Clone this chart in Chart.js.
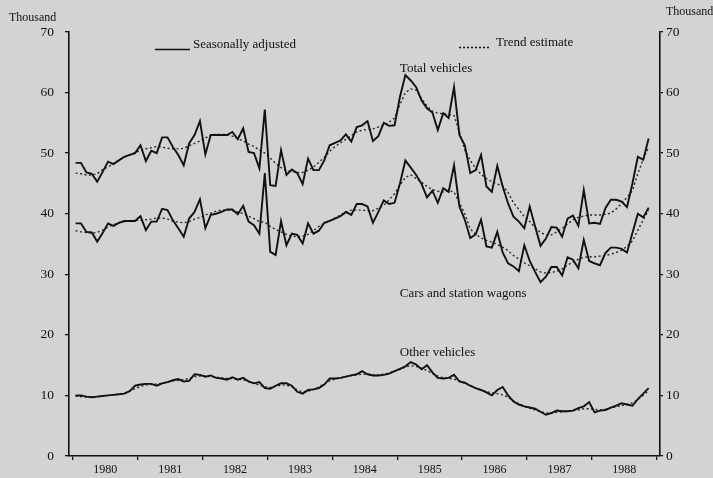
<!DOCTYPE html>
<html>
<head>
<meta charset="utf-8">
<script src="https://cdn.jsdelivr.net/npm/chart.js@4.4.0/dist/chart.umd.min.js"></script>
<style>
  html, body { margin: 0; padding: 0; background: #d3d3d3; }
  #wrap { width: 713px; height: 478px; position: relative; }
</style>
</head>
<body>
<div id="wrap"><canvas id="chart"></canvas></div>
<script>
// Monthly registrations, Jan 1980 - Nov 1988 (thousand)
const years = [1980, 1981, 1982, 1983, 1984, 1985, 1986, 1987, 1988];
const yTicks = [0, 10, 20, 30, 40, 50, 60, 70];

const totalAdj = [
  48.4, 48.4, 46.8, 46.6, 45.3, 46.9, 48.6, 48.2, 48.8, 49.4,
  49.7, 50.0, 51.3, 48.7, 50.4, 50.0, 52.6, 52.6, 51.0, 49.7,
  48.0, 51.6, 53.0, 55.3, 49.8, 53.0, 53.0, 53.0, 53.0, 53.5,
  52.3, 54.1, 50.2, 50.0, 47.5, 57.2, 44.7, 44.6, 50.5, 46.4,
  47.3, 46.7, 44.9, 49.1, 47.2, 47.2, 48.8, 51.3, 51.7, 52.1,
  53.1, 51.9, 54.3, 54.6, 55.3, 52.0, 52.8, 55.0, 54.5, 54.6,
  59.3, 62.9, 62.0, 60.9, 58.7, 57.4, 56.7, 53.8, 56.6, 55.8,
  60.9, 53.0, 51.3, 46.7, 47.2, 49.7, 44.5, 43.6, 47.9, 44.5,
  41.7, 39.5, 38.7, 37.6, 41.2, 37.9, 34.7, 35.9, 37.8, 37.7,
  36.2, 39.2, 39.7, 38.0, 43.9, 38.4, 38.5, 38.3, 40.9, 42.3,
  42.3, 42.0, 41.1, 45.0, 49.4, 48.9, 52.4
];
const totalTrend = [
  46.7, 46.6, 46.4, 46.4, 46.6, 47.3, 47.7, 48.3, 48.8, 49.3,
  49.7, 50.1, 50.4, 50.7, 50.9, 51.1, 51.0, 50.8, 50.7, 50.7,
  50.8, 51.2, 51.6, 52.0, 52.5, 53.0, 53.1, 53.1, 53.1, 52.8,
  52.4, 52.0, 51.5, 51.1, 50.5, 50.0, 49.2, 48.3, 47.6, 47.1,
  47.0, 46.8, 46.8, 47.2, 47.7, 48.5, 49.3, 50.3, 51.1, 51.7,
  52.3, 52.9, 53.5, 53.8, 53.9, 54.0, 54.3, 54.6, 55.1, 55.8,
  58.0, 60.0, 60.6, 60.4, 59.0, 57.8, 56.9, 56.6, 56.5, 56.4,
  56.2, 53.5, 50.5, 48.8, 47.5, 46.5, 45.8, 45.3, 44.9, 44.6,
  43.5, 41.8, 40.7, 39.5, 38.7, 37.7, 36.9, 36.5, 36.5, 37.0,
  37.6, 38.3, 39.0, 39.4, 39.6, 39.8, 39.8, 39.8, 39.9, 40.1,
  40.8, 41.7, 42.7, 43.8, 46.6, 49.0, 51.0
];
const carsAdj = [
  38.4, 38.4, 37.0, 36.9, 35.4, 36.8, 38.4, 38.0, 38.5, 38.8,
  38.8, 38.8, 39.6, 37.3, 38.7, 38.7, 40.8, 40.6, 38.9, 37.6,
  36.2, 39.2, 40.3, 42.4, 37.6, 39.8, 40.0, 40.3, 40.7, 40.7,
  39.9, 41.3, 38.7, 38.1, 36.7, 46.7, 33.7, 33.2, 38.8, 34.8,
  36.7, 36.5, 35.1, 38.4, 36.7, 37.2, 38.5, 38.8, 39.2, 39.6,
  40.3, 39.8, 41.6, 41.6, 41.2, 38.5, 40.3, 42.2, 41.6, 41.8,
  45.0, 48.8, 47.6, 46.4, 44.9, 42.7, 43.8, 41.8, 44.2, 43.6,
  48.0, 41.2, 39.0, 36.0, 36.6, 39.0, 34.6, 34.4, 37.0, 33.6,
  31.8, 31.3, 30.5, 34.8, 32.2, 30.4, 28.7, 29.6, 31.2, 31.2,
  29.8, 32.8, 32.4, 31.0, 35.7, 32.2, 31.8, 31.5, 33.5, 34.4,
  34.4, 34.2, 33.6, 36.8, 40.0, 39.4, 41.0
];
const carsTrend = [
  37.2, 37.0, 36.9, 36.8, 36.9, 37.3, 37.8, 38.2, 38.5, 38.7,
  38.8, 38.9, 38.9, 39.0, 39.1, 39.3, 39.3, 39.1, 38.8, 38.6,
  38.5, 38.7, 39.1, 39.4, 39.8, 40.1, 40.4, 40.6, 40.6, 40.5,
  40.3, 40.0, 39.6, 39.2, 38.7, 38.6, 37.9, 37.4, 37.0, 36.6,
  36.3, 36.2, 36.3, 36.6, 37.2, 37.9, 38.4, 38.8, 39.3, 39.8,
  40.3, 40.6, 40.6, 40.6, 40.5, 40.5, 40.9, 41.4, 42.3, 43.3,
  44.7, 46.0, 46.4, 45.8, 45.2, 44.5, 44.0, 43.7, 43.6, 43.8,
  43.6, 41.8, 40.0, 37.5, 36.6, 36.0, 35.6, 35.3, 34.9, 34.5,
  33.9, 33.1, 32.5, 31.9, 31.4, 30.9, 30.4, 30.2, 30.3, 30.5,
  30.9, 31.5, 32.0, 32.5, 32.8, 32.9, 32.9, 33.0, 33.1, 33.3,
  33.6, 34.0, 34.6, 35.5, 37.3, 39.0, 40.6
];
const otherAdj = [
  10.0, 10.0, 9.8, 9.7, 9.8, 9.9, 10.0, 10.1, 10.2, 10.3,
  10.7, 11.6, 11.8, 11.9, 11.9, 11.6, 12.0, 12.2, 12.5, 12.7,
  12.3, 12.4, 13.5, 13.4, 13.1, 13.3, 12.9, 12.8, 12.6, 13.0,
  12.6, 12.9, 12.3, 12.0, 12.2, 11.2, 11.1, 11.6, 12.0, 12.0,
  11.6, 10.6, 10.3, 10.9, 11.0, 11.2, 11.8, 12.8, 12.8, 12.9,
  13.1, 13.3, 13.5, 14.0, 13.5, 13.3, 13.3, 13.4, 13.6, 14.0,
  14.4, 14.8, 15.5, 15.1, 14.3, 15.0, 13.8, 12.9, 12.8, 12.9,
  13.4, 12.3, 12.1, 11.6, 11.2, 10.9, 10.5, 10.0, 10.9, 11.4,
  10.0, 9.0, 8.5, 8.2, 8.0, 7.8, 7.3, 6.8, 7.1, 7.5,
  7.4, 7.4, 7.5, 7.9, 8.2, 8.9, 7.2, 7.5, 7.6, 8.0,
  8.3, 8.7, 8.5, 8.3, 9.4, 10.3, 11.2
];
const otherTrend = [
  9.9, 9.8, 9.7, 9.7, 9.8, 9.9, 10.0, 10.1, 10.2, 10.4,
  10.7, 11.1, 11.5, 11.7, 11.8, 11.9, 12.0, 12.2, 12.4, 12.5,
  12.6, 12.8, 13.1, 13.2, 13.2, 13.1, 13.0, 12.9, 12.8, 12.8,
  12.7, 12.6, 12.3, 12.0, 11.7, 11.4, 11.3, 11.5, 11.7, 11.7,
  11.4, 10.9, 10.6, 10.7, 11.0, 11.4, 11.9, 12.4, 12.7, 12.9,
  13.1, 13.3, 13.4, 13.5, 13.5, 13.4, 13.4, 13.5, 13.7, 14.0,
  14.3, 14.7, 14.9, 14.8, 14.5, 14.1, 13.6, 13.2, 12.9, 12.8,
  12.7, 12.4, 12.0, 11.6, 11.2, 10.9, 10.6, 10.4, 10.3, 10.1,
  9.7, 9.1, 8.6, 8.2, 7.9, 7.6, 7.3, 7.1, 7.1, 7.2,
  7.3, 7.4, 7.5, 7.6, 7.8, 7.8, 7.7, 7.6, 7.7, 7.9,
  8.1, 8.3, 8.5, 8.8, 9.3, 10.0, 10.8
];

const INK = '#111111';
const SERIF = '"Liberation Serif", "DejaVu Serif", serif';

// month i sits in the middle of its month on a decimal-year axis
function toPoints(values) {
  return values.map((v, i) => ({ x: years[0] + (i + 0.5) / 12, y: v }));
}

function solid(values) {
  return {
    data: toPoints(values), borderColor: INK, borderWidth: 1.9,
    pointRadius: 0, tension: 0, fill: false
  };
}

function dotted(values) {
  return {
    data: toPoints(values), borderColor: '#262626', borderWidth: 1.4,
    borderDash: [2, 2.5], pointRadius: 0, tension: 0, fill: false
  };
}

// series labels, placed in data units
const seriesLabels = [
  { text: 'Total vehicles', x: 1985.04, y: 64.0 },
  { text: 'Cars and station wagons', x: 1985.04, y: 26.8 },
  { text: 'Other vehicles', x: 1985.04, y: 17.1 }
];

const decorPlugin = {
  id: 'decor',
  beforeDraw(chart) {
    const ctx = chart.ctx;
    ctx.save();
    ctx.fillStyle = '#d3d3d3';
    ctx.fillRect(0, 0, chart.width, chart.height);
    ctx.restore();
  },
  afterDraw(chart) {
    const ctx = chart.ctx;
    const xs = chart.scales.x, ys = chart.scales.y;
    ctx.save();
    ctx.fillStyle = INK;
    ctx.strokeStyle = INK;
    ctx.textBaseline = 'middle';
    ctx.font = '13px ' + SERIF;
    ctx.textAlign = 'left';
    seriesLabels.forEach(l => {
      ctx.fillText(l.text, xs.getPixelForValue(l.x), ys.getPixelForValue(l.y));
    });

    // legend
    ctx.fillText('Seasonally adjusted', 193, 45);
    ctx.fillText('Trend estimate', 496, 43);
    ctx.lineWidth = 1.6;
    ctx.beginPath();
    ctx.moveTo(155, 49.5);
    ctx.lineTo(190, 49.5);
    ctx.stroke();
    ctx.setLineDash([2, 2]);
    ctx.lineWidth = 1.4;
    ctx.beginPath();
    ctx.moveTo(459, 47.5);
    ctx.lineTo(490, 47.5);
    ctx.stroke();
    ctx.setLineDash([]);

    // unit captions
    ctx.font = '12px ' + SERIF;
    ctx.fillText('Thousand', 9, 18);
    ctx.fillText('Thousand', 666, 12);
    ctx.restore();
  }
};

const tickFont = { family: SERIF, size: 13.5 };

new Chart(document.getElementById('chart'), {
  type: 'line',
  data: {
    datasets: [
      solid(totalAdj), dotted(totalTrend),
      solid(carsAdj), dotted(carsTrend),
      solid(otherAdj), dotted(otherTrend)
    ]
  },
  options: {
    responsive: true,
    maintainAspectRatio: false,
    animation: false,
    layout: { padding: { top: 32, left: 0, right: 0, bottom: 0 } },
    plugins: { legend: { display: false }, tooltip: { enabled: false } },
    scales: {
      x: {
        type: 'linear',
        min: 1979.94,
        max: 1989.05,
        afterBuildTicks: s => {
          const t = [];
          years.forEach(yr => { t.push({ value: yr }); t.push({ value: yr + 0.5 }); });
          t.push({ value: years[years.length - 1] + 1 });
          s.ticks = t;
        },
        afterFit: s => { s.height = 22; },
        ticks: {
          autoSkip: false, maxRotation: 0, padding: 3,
          color: INK, font: { family: SERIF, size: 12 },
          callback: v => Number.isInteger(v) ? '' : String(Math.floor(v))
        },
        grid: {
          drawOnChartArea: false, tickLength: 4, lineWidth: 1.3,
          color: c => (c.tick && Number.isInteger(c.tick.value)) ? INK : 'rgba(0,0,0,0)'
        },
        border: { display: true, color: INK, width: 1.6 }
      },
      y: {
        position: 'left',
        min: 0, max: 70,
        afterBuildTicks: s => { s.ticks = yTicks.map(v => ({ value: v })); },
        afterFit: s => { s.width = 69; },
        ticks: { color: INK, font: tickFont, padding: 11 },
        grid: { drawOnChartArea: false, tickLength: 4, color: INK, lineWidth: 1.3 },
        border: { display: true, color: INK, width: 1.6 }
      },
      y2: {
        position: 'right',
        min: 0, max: 70,
        afterBuildTicks: s => { s.ticks = yTicks.map(v => ({ value: v })); },
        afterFit: s => { s.width = 53; },
        ticks: { color: INK, font: tickFont, padding: 3 },
        grid: { drawOnChartArea: false, tickLength: 3, color: INK, lineWidth: 1.3 },
        border: { display: true, color: INK, width: 1.6 }
      }
    }
  },
  plugins: [decorPlugin]
});
</script>
</body>
</html>
